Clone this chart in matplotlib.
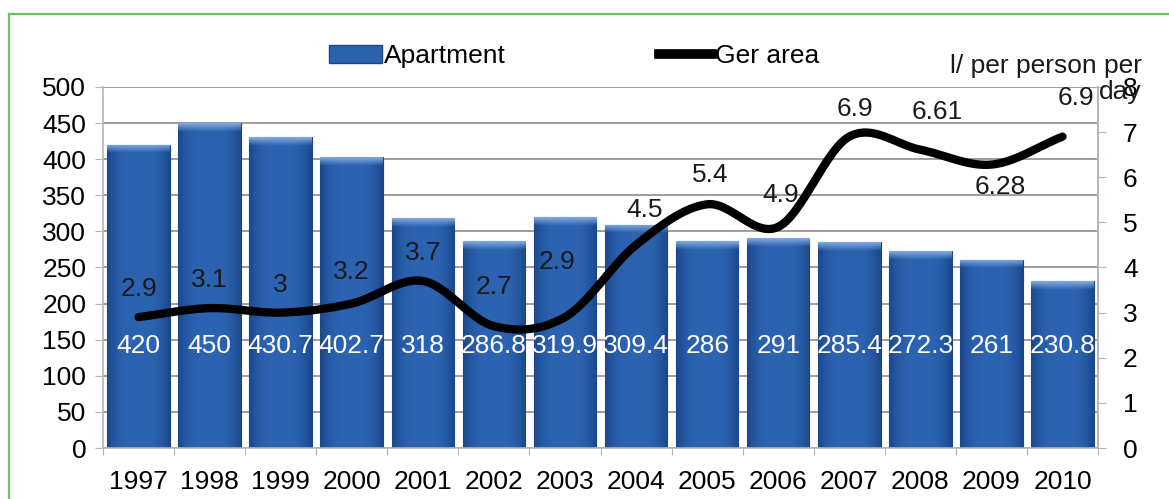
import matplotlib
matplotlib.use("Agg")
import matplotlib.pyplot as plt
import numpy as np
from matplotlib.lines import Line2D
from matplotlib.patches import Patch

plt.rcParams['font.family'] = ['Liberation Sans', 'DejaVu Sans']

# Data
years = ['1997', '1998', '1999', '2000', '2001', '2002', '2003',
         '2004', '2005', '2006', '2007', '2008', '2009', '2010']
apartment = [420, 450, 430.7, 402.7, 318, 286.8, 319.9,
             309.4, 286, 291, 285.4, 272.3, 261, 230.8]
ger_area = [2.9, 3.1, 3, 3.2, 3.7, 2.7, 2.9,
            4.5, 5.4, 4.9, 6.9, 6.61, 6.28, 6.9]
apartment_labels = ['420', '450', '430.7', '402.7', '318', '286.8', '319.9',
                    '309.4', '286', '291', '285.4', '272.3', '261', '230.8']
ger_labels = ['2.9', '3.1', '3', '3.2', '3.7', '2.7', '2.9',
              '4.5', '5.4', '4.9', '6.9', '6.61', '6.28', '6.9']

FS = 19
GRID = '#a8999a'
AXC = '#b5b5b5'


def catmull_rom(xs, ys, n=30):
    # smooth curve through the points, like the office "smoothed line"
    px = np.concatenate([[2 * xs[0] - xs[1]], xs, [2 * xs[-1] - xs[-2]]])
    py = np.concatenate([[2 * ys[0] - ys[1]], ys, [2 * ys[-1] - ys[-2]]])
    outx, outy = [], []
    t = np.linspace(0, 1, n)
    for i in range(1, len(px) - 2):
        for p, out in ((px, outx), (py, outy)):
            p0, p1, p2, p3 = p[i - 1], p[i], p[i + 1], p[i + 2]
            out.extend(0.5 * (2 * p1 + (-p0 + p2) * t
                              + (2 * p0 - 5 * p1 + 4 * p2 - p3) * t ** 2
                              + (-p0 + 3 * p1 - 3 * p2 + p3) * t ** 3))
    return np.array(outx), np.array(outy)


fig = plt.figure(figsize=(11.69, 4.99), dpi=100)
ax = fig.add_axes([0.0881, 0.1022, 0.8512, 0.7235])
x = np.arange(len(years))

ax.set_axisbelow(True)
ax.yaxis.grid(True, color=GRID, linewidth=1.4)
bars = ax.bar(x, apartment, 0.88, color='#2c61ad', edgecolor='#1c4682',
              linewidth=0.8, zorder=2)

# shaded look for each bar: darker edges, lighter bevel on top
base = np.array([0x2d, 0x64, 0xb2]) / 255
dark = np.array([0x1b, 0x47, 0x8c]) / 255
light = np.array([0x80, 0xab, 0xe0]) / 255
u = np.linspace(-1, 1, 64)
w = np.abs(u) ** 3
hgrad = (base[None, :] * (1 - w[:, None]) + dark[None, :] * w[:, None])[None, :, :]
v = np.linspace(0, 1, 16)[:, None, None]
vgrad = light[None, None, :] * (1 - v) + hgrad * v
for b in bars:
    x0, w0, h = b.get_x(), b.get_width(), b.get_height()
    im = ax.imshow(hgrad, extent=(x0, x0 + w0, 0, h), aspect='auto',
                   zorder=2.1, interpolation='bilinear')
    im.set_clip_path(b)
    im2 = ax.imshow(vgrad, extent=(x0, x0 + w0, h - 12, h), aspect='auto',
                    zorder=2.2, interpolation='bilinear')
    im2.set_clip_path(b)

for i, lab in enumerate(apartment_labels):
    ax.text(x[i], 141, lab, color='white', fontsize=FS, ha='center',
            va='center', zorder=5)

ax.set_xlim(-0.5, len(years) - 0.5)
ax.set_ylim(0, 500)
ax.set_yticks(np.arange(0, 501, 50))
ax.set_xticks(np.arange(len(years) + 1) - 0.5)
ax.set_xticklabels([])
ax.set_xticks(x, minor=True)
ax.set_xticklabels(years, minor=True)
ax.tick_params(axis='x', which='minor', length=0, pad=16, labelsize=FS)
ax.tick_params(axis='x', which='major', length=5, color=AXC)
ax.tick_params(axis='y', length=6, pad=6, color=AXC, labelsize=FS)
ax.spines['top'].set_visible(False)
for s in ['left', 'bottom', 'right']:
    ax.spines[s].set_color(AXC)
    ax.spines[s].set_linewidth(1.2)

ax2 = ax.twinx()
ax2.set_ylim(0, 8)
ax2.set_yticks(np.arange(0, 9, 1))
ax2.tick_params(axis='y', length=6, pad=12, color=AXC, labelsize=FS)
for s in ['top', 'left', 'bottom']:
    ax2.spines[s].set_visible(False)
ax2.spines['right'].set_color(AXC)
ax2.spines['right'].set_linewidth(1.2)

sx, sy = catmull_rom(x.astype(float), np.array(ger_area, dtype=float))
ax2.plot(sx, sy, color='black', linewidth=6, solid_capstyle='round', zorder=4)

# label offsets in points (dx, dy)
offsets = {2: (0, 20), 3: (0, 23), 5: (0, 28), 6: (-6, 40), 7: (6, 25),
           8: (2, 21), 9: (2, 23), 10: (4, 20), 11: (12, 27), 12: (6, -16),
           13: (10, 28)}
for i, lab in enumerate(ger_labels):
    dx, dy = offsets.get(i, (0, 20))
    ax2.annotate(lab, (x[i], ger_area[i]), xytext=(dx, dy),
                 textcoords='offset points', ha='center', va='center',
                 fontsize=FS, color='#1a1a1a', zorder=6)

handles = [Patch(facecolor='#2c61ad', edgecolor='#1c4682', label='Apartment'),
           Line2D([0], [0], color='black', linewidth=7, label='Ger area')]
fig.legend(handles=handles, loc='center', bbox_to_anchor=(574 / 1169, 1 - 56 / 499),
           ncol=2, frameon=False, fontsize=FS, handlelength=2.0,
           handletextpad=0.1, columnspacing=5.8)

fig.text(1142 / 1169, 1 - 54 / 499, 'l/ per person per\nday', ha='right',
         va='top', multialignment='right', fontsize=FS, color='#1a1a1a',
         linespacing=1.1)

# green frame (left and top edges)
fig.add_artist(Line2D([9 / 1169, 9 / 1169], [0, 1 - 14 / 499],
                      transform=fig.transFigure, color='#6cc06a', linewidth=1.6))
fig.add_artist(Line2D([9 / 1169, 1], [1 - 14 / 499, 1 - 14 / 499],
                      transform=fig.transFigure, color='#6cc06a', linewidth=1.6))

fig.savefig('out.png', dpi=100)
